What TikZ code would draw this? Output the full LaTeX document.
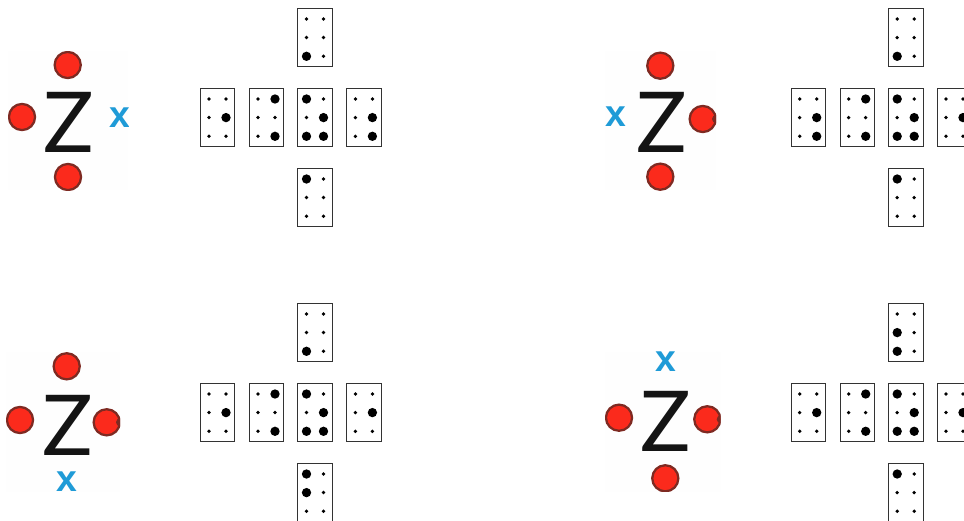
\documentclass[tikz,border=0pt]{standalone}
\usepackage{fontspec}
\setmainfont{Liberation Sans}
\newfontfamily\zfont{Lato}
\newfontfamily\xfont{Liberation Sans}
\definecolor{elecred}{HTML}{FB2A1C}
\definecolor{elecedge}{HTML}{7E2A22}
\definecolor{xblue}{HTML}{1F9BD7}
\definecolor{patch}{HTML}{FEFEFE}
\definecolor{boxline}{HTML}{333333}
\tikzset{
  x=0.75pt,y=-0.75pt,
  cellbox/.style={draw=boxline,line width=0.75pt,fill=white},
  bigdot/.style={fill=black},
  patchbox/.style={fill=patch,draw=none},
  electron/.style={circle,fill=elecred,draw=elecedge,line width=1.7pt,minimum size=19.6pt,inner sep=0pt},
  bump/.style={circle,fill=elecedge,draw=none,minimum size=6pt,inner sep=0pt},
  zlabel/.style={inner sep=0pt,text=black!92,font=\zfont\fontsize{63}{63}\selectfont},
  xlabel/.style={inner sep=0pt,text=xblue,font=\xfont\bfseries\fontsize{28}{28}\selectfont}
}
% \brl{x}{y}{six digits, rows left-right}
\newcommand\dotat[3]{%
  \ifnum#3=1 \fill[bigdot] (#1,#2) circle (3.5pt);\else \fill[bigdot] (#1,#2) circle (1.4pt);\fi}
\newcommand\brl[8]{%
  \draw[cellbox] (#1,#2) rectangle ++(34.5,58);
  \dotat{#1+8.7}{#2+10.7}{#3}\dotat{#1+25.7}{#2+10.7}{#4}
  \dotat{#1+8.7}{#2+29.3}{#5}\dotat{#1+25.7}{#2+29.3}{#6}
  \dotat{#1+8.7}{#2+48}{#7}\dotat{#1+25.7}{#2+48}{#8}}
\begin{document}
\begin{tikzpicture}
\useasboundingbox (0,0) rectangle (964,521);
\clip (0,0) rectangle (964,521);
% ---------- panel 1
\fill[patchbox] (8,51) rectangle (128,190);
\begin{scope}
\clip (8,51) rectangle (128,190);
\node[zlabel] (z1) at (68.7,122) {Z};
\node[xlabel] (x1) at (119.5,118) {x};
\node[electron] (a1) at (67.7,65) {};
\node[electron] (b1) at (22,117) {};
\node[electron] (c1) at (68,177) {};
\end{scope}
\brl{297.8}{8.3}{0}{0}{0}{0}{1}{0}
\brl{200.3}{88.3}{0}{0}{0}{1}{0}{0}
\brl{249.3}{88.3}{0}{1}{0}{0}{0}{1}
\brl{297.8}{88.3}{1}{0}{0}{1}{1}{1}
\brl{346.7}{88.3}{0}{0}{0}{1}{0}{1}
\brl{297.8}{168.3}{1}{0}{0}{0}{0}{0}
% ---------- panel 2
\fill[patchbox] (605,51) rectangle (716,190);
\begin{scope}
\clip (605,51) rectangle (716,190);
\node[zlabel] (z2) at (661.3,122) {Z};
\node[xlabel] (x2) at (615.7,117) {x};
\node[electron] (a2) at (660.3,65.7) {};
\node[electron] (b2) at (702.7,119) {};
\node[bump] (e2) at (716,119) {};
\node[electron] (c2) at (660.3,176.7) {};
\end{scope}
\brl{888.5}{8.3}{0}{0}{0}{0}{1}{0}
\brl{791}{88.3}{0}{0}{0}{1}{0}{1}
\brl{840}{88.3}{0}{1}{0}{0}{0}{1}
\brl{888.5}{88.3}{1}{0}{0}{1}{1}{1}
\brl{937.3}{88.3}{0}{0}{0}{1}{0}{0}
\brl{888.5}{168.3}{1}{0}{0}{0}{0}{0}
% ---------- panel 3
\fill[patchbox] (6,352) rectangle (120,491.7);
\begin{scope}
\clip (6,352) rectangle (120,491.7);
\node[zlabel] (z3) at (67.8,425.3) {Z};
\node[xlabel] (x3) at (66.7,482) {x};
\node[electron] (a3) at (66.7,366.3) {};
\node[electron] (b3) at (20,420) {};
\node[electron] (c3) at (106.7,422.3) {};
\node[bump] (e3) at (120,422.3) {};
\end{scope}
\brl{297.8}{303.3}{0}{0}{0}{0}{1}{0}
\brl{200.3}{383.3}{0}{0}{0}{1}{0}{0}
\brl{249.3}{383.3}{0}{1}{0}{0}{0}{1}
\brl{297.8}{383.3}{1}{0}{0}{1}{1}{1}
\brl{346.7}{383.3}{0}{0}{0}{1}{0}{0}
\brl{297.8}{463.3}{1}{0}{1}{0}{0}{0}
% ---------- panel 4
\fill[patchbox] (605,351.7) rectangle (720.7,491.7);
\begin{scope}
\clip (605,351.7) rectangle (720.7,491.7);
\node[zlabel] (z4) at (665.3,421.7) {Z};
\node[xlabel] (x4) at (666,361.5) {x};
\node[electron] (a4) at (619,417.7) {};
\node[electron] (b4) at (707.3,419.3) {};
\node[bump] (e4) at (720.7,419.3) {};
\node[electron] (c4) at (665.3,478.3) {};
\end{scope}
\brl{888.5}{303.3}{0}{0}{1}{0}{1}{0}
\brl{791}{383.3}{0}{0}{0}{1}{0}{0}
\brl{840}{383.3}{0}{1}{0}{0}{0}{1}
\brl{888.5}{383.3}{1}{0}{0}{1}{1}{1}
\brl{937.3}{383.3}{0}{0}{0}{1}{0}{0}
\brl{888.5}{463.3}{1}{0}{0}{0}{0}{0}
\end{tikzpicture}
\end{document}
